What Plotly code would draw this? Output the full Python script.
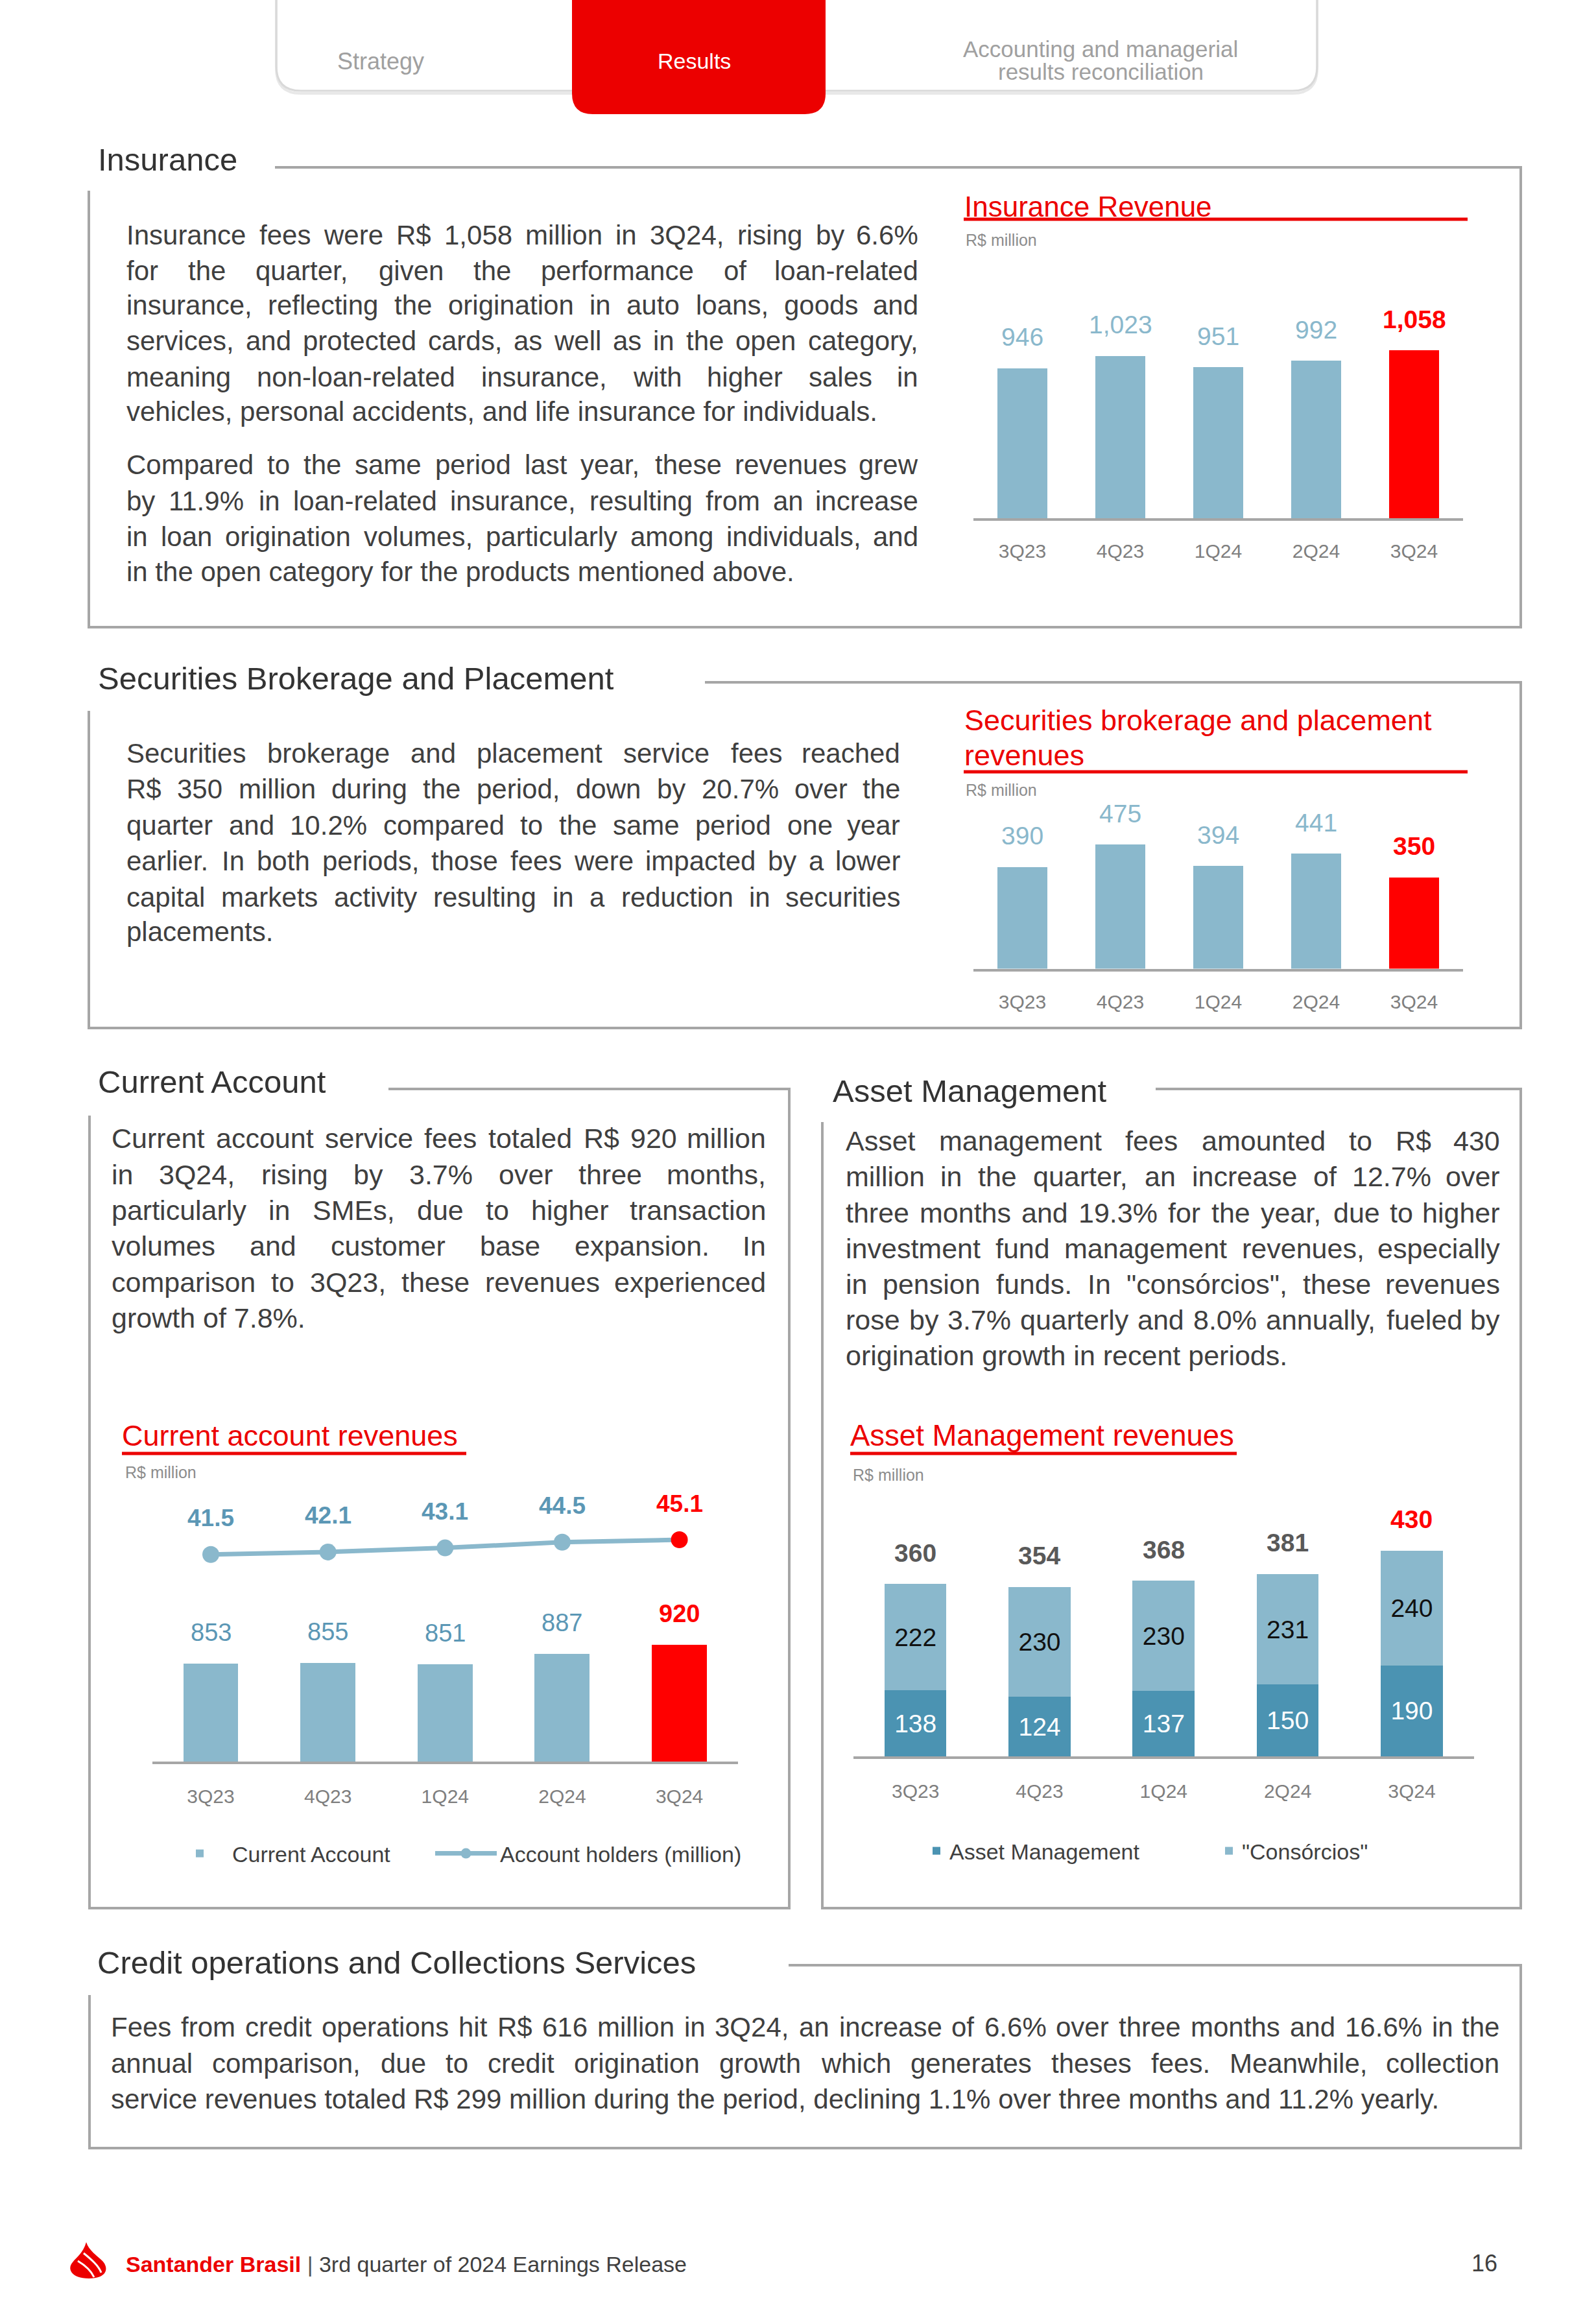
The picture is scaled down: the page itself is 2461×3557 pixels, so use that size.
import plotly.graph_objects as go

W, H = 2461, 3557

# ---------------- data ----------------
quarters = ["3Q23", "4Q23", "1Q24", "2Q24", "3Q24"]
insurance_revenue = [946, 1023, 951, 992, 1058]
securities_revenue = [390, 475, 394, 441, 350]
current_account_revenue = [853, 855, 851, 887, 920]
account_holders = [41.5, 42.1, 43.1, 44.5, 45.1]
asset_management = [138, 124, 137, 150, 190]
consorcios = [222, 230, 230, 231, 240]
asset_total = [360, 354, 368, 381, 430]

# ---------------- text ----------------
insurance_p1 = [
    "Insurance fees were R$ 1,058 million in 3Q24, rising by 6.6%",
    "for the quarter, given the performance of loan-related",
    "insurance, reflecting the origination in auto loans, goods and",
    "services, and protected cards, as well as in the open category,",
    "meaning non-loan-related insurance, with higher sales in",
    "vehicles, personal accidents, and life insurance for individuals.",
]
insurance_p2 = [
    "Compared to the same period last year, these revenues grew",
    "by 11.9% in loan-related insurance, resulting from an increase",
    "in loan origination volumes, particularly among individuals, and",
    "in the open category for the products mentioned above.",
]
securities_p = [
    "Securities brokerage and placement service fees reached",
    "R$ 350 million during the period, down by 20.7% over the",
    "quarter and 10.2% compared to the same period one year",
    "earlier. In both periods, those fees were impacted by a lower",
    "capital markets activity resulting in a reduction in securities",
    "placements.",
]
current_p = [
    "Current account service fees totaled R$ 920 million",
    "in 3Q24, rising by 3.7% over three months,",
    "particularly in SMEs, due to higher transaction",
    "volumes and customer base expansion. In",
    "comparison to 3Q23, these revenues experienced",
    "growth of 7.8%.",
]
asset_p = [
    "Asset management fees amounted to R$ 430",
    "million in the quarter, an increase of 12.7% over",
    "three months and 19.3% for the year, due to higher",
    "investment fund management revenues, especially",
    "in pension funds. In \"consórcios\", these revenues",
    "rose by 3.7% quarterly and 8.0% annually, fueled by",
    "origination growth in recent periods.",
]
credit_p = [
    "Fees from credit operations hit R$ 616 million in 3Q24, an increase of 6.6% over three months and 16.6% in the",
    "annual comparison, due to credit origination growth which generates theses fees. Meanwhile, collection",
    "service revenues totaled R$ 299 million during the period, declining 1.1% over three months and 11.2% yearly.",
]

# ---------------- style ----------------
FONT = "Liberation Sans"
RED_T = "#EC0000"
RED_B = "#FF0000"
LB = "#8AB8CC"
DB = "#4B93B2"
LBL_DARK = "#5B97B5"
AX = "#A6A6A6"
TXT = "#3F3F3F"
TICK = "#7F7F7F"


def px(x):
    return x / W


def py(y):
    return 1 - y / H


def path_px(s):
    out = []
    for tok in s.split():
        if "," in tok:
            a, b = tok.split(",")
            out.append(f"{px(float(a)):.6f},{py(float(b)):.6f}")
        else:
            out.append(tok)
    return " ".join(out)


HELV = {' ': 278, '!': 278, '"': 355, '#': 556, '$': 556, '%': 889, '&': 667, "'": 191,
        '(': 333, ')': 333, '*': 389, '+': 584, ',': 278, '-': 333, '.': 278, '/': 278,
        ':': 278, ';': 278, '?': 556, 'A': 667, 'B': 667, 'C': 722, 'D': 722, 'E': 667,
        'F': 611, 'G': 778, 'H': 722, 'I': 278, 'J': 500, 'K': 667, 'L': 556, 'M': 833,
        'N': 722, 'O': 778, 'P': 667, 'Q': 778, 'R': 722, 'S': 667, 'T': 611, 'U': 722,
        'V': 667, 'W': 944, 'X': 667, 'Y': 667, 'Z': 611, 'a': 556, 'b': 556, 'c': 500,
        'd': 556, 'e': 556, 'f': 278, 'g': 556, 'h': 556, 'i': 222, 'j': 222, 'k': 500,
        'l': 222, 'm': 833, 'n': 556, 'o': 556, 'p': 556, 'q': 556, 'r': 333, 's': 500,
        't': 278, 'u': 556, 'v': 500, 'w': 722, 'x': 500, 'y': 500, 'z': 500, 'ó': 556}
for d in "0123456789":
    HELV[d] = 556


def em_width(s):
    return sum(HELV.get(c, 556) for c in s) / 1000.0


fig = go.Figure()
annotations = []
shapes = []


def add_text(text, x, y, size, anchor="left", color=TXT, family=FONT, yanchor="middle"):
    annotations.append(dict(x=px(x), y=py(y), xref="paper", yref="paper", text=text,
                            showarrow=False, xanchor=anchor, yanchor=yanchor, borderpad=0,
                            font=dict(family=family, size=size, color=color)))


def add_paragraph(lines, x0, x1, ys, size):
    for line in lines[:-1]:
        words = line.split(" ")
        need = sum(em_width(w_) for w_ in words) + 0.2 * (len(words) - 1)
        size = min(size, (x1 - x0) / need)
    for k, (line, y) in enumerate(zip(lines, ys)):
        if k == len(lines) - 1:
            add_text(line, x0, y, size, "left")
            continue
        words = line.split(" ")
        widths = [em_width(w_) * size for w_ in words]
        gap = (x1 - x0 - sum(widths)) / (len(words) - 1)
        x = x0
        for j, (wd, ww) in enumerate(zip(words, widths)):
            if j == len(words) - 1:
                add_text(wd, x1, y, size, "right")
            else:
                add_text(wd, x, y, size, "left")
            x += ww + gap


def add_box(x_start, y_top, x_right, y_bot, x_left, y_left_start):
    shapes.append(dict(type="path", xref="paper", yref="paper",
                       path=path_px(f"M {x_start},{y_top} L {x_right},{y_top} L {x_right},{y_bot} "
                                    f"L {x_left},{y_bot} L {x_left},{y_left_start}"),
                       line=dict(color=AX, width=4)))


def hline(x0, x1, y, color, width):
    shapes.append(dict(type="line", xref="paper", yref="paper", x0=px(x0), x1=px(x1),
                       y0=py(y), y1=py(y), line=dict(color=color, width=width)))


# ---------------- top navigation tabs ----------------
L, R, B, T, r = 426, 2031, 140, -10, 38
shapes.append(dict(type="path", xref="paper", yref="paper",
                   path=path_px(f"M {L},{T} L {L},{B - r + 4} Q {L},{B + 4} {L + r},{B + 4} L {R - r},{B + 4} "
                                f"Q {R},{B + 4} {R},{B - r + 4} L {R},{T}"),
                   line=dict(color="#E8E8E8", width=4)))
shapes.append(dict(type="path", xref="paper", yref="paper",
                   path=path_px(f"M {L},{T} L {L},{B - r} Q {L},{B} {L + r},{B} L {R - r},{B} "
                                f"Q {R},{B} {R},{B - r} L {R},{T}"),
                   line=dict(color="#D9D9D9", width=3)))
L2, R2, B2, r2 = 882, 1273, 176, 32
shapes.append(dict(type="path", xref="paper", yref="paper",
                   path=path_px(f"M {L2},{T} L {L2},{B2 - r2} Q {L2},{B2} {L2 + r2},{B2} L {R2 - r2},{B2} "
                                f"Q {R2},{B2} {R2},{B2 - r2} L {R2},{T} Z"),
                   fillcolor=RED_T, line=dict(width=0)))
add_text("Strategy", 587, 95, 36, "center", color="#A0A0A0")
add_text("Results", 1070, 94, 34, "center", color="white")
add_text("Accounting and managerial", 1697, 76, 35, "center", color="#A0A0A0")
add_text("results reconciliation", 1697, 111, 35, "center", color="#A0A0A0")

# ---------------- section boxes & titles ----------------
add_text("Insurance", 150, 246, 49, "left", color="#333333")
add_box(424, 258, 2345, 967, 137, 294)
add_text("Securities Brokerage and Placement", 150, 1046, 49, "left", color="#333333")
add_box(1087, 1052, 2345, 1585, 137, 1096)
add_text("Current Account", 150, 1668, 49, "left", color="#333333")
add_box(599, 1679, 1217, 2942, 138, 1720)
add_text("Asset Management", 1283, 1682, 49, "left", color="#333333")
add_box(1782, 1679, 2345, 2942, 1268, 1730)
add_text("Credit operations and Collections Services", 149, 3026, 49, "left", color="#333333")
add_box(1216, 3030, 2345, 3312, 138, 3076)

# ---------------- paragraphs ----------------
add_paragraph(insurance_p1, 194, 1417, [362, 417, 471, 526, 581, 635], 42)
add_paragraph(insurance_p2, 194, 1417, [717, 772, 827, 882], 42)
add_paragraph(securities_p, 194, 1389, [1161, 1216, 1272, 1327, 1383, 1437], 42)
add_paragraph(current_p, 171, 1182, [1755, 1811, 1866, 1921, 1977, 2032], 43)
add_paragraph(asset_p, 1303, 2314, [1759, 1814, 1870, 1925, 1980, 2035, 2090], 43)
add_paragraph(credit_p, 170, 2313, [3125, 3181, 3236], 42)

# ---------------- chart titles ----------------
add_text("Insurance Revenue", 1486, 318, 44, "left", color=RED_T)
hline(1486, 2263, 338, RED_T, 5)
add_text("R$ million", 1488, 370, 25, "left", color="#8C8C8C")

add_text("Securities brokerage and placement", 1486, 1111, 45, "left", color=RED_T)
add_text("revenues", 1486, 1164, 45, "left", color=RED_T)
hline(1486, 2263, 1190, RED_T, 5)
add_text("R$ million", 1488, 1218, 25, "left", color="#8C8C8C")

add_text("Current account revenues", 187, 2213, 45, "left", color=RED_T)
hline(188, 719, 2241, RED_T, 5)
add_text("R$ million", 192, 2270, 25, "left", color="#8C8C8C")

add_text("Asset Management revenues", 1310, 2213, 45.5, "left", color=RED_T)
hline(1311, 1907, 2241, RED_T, 5)
add_text("R$ million", 1314, 2274, 25, "left", color="#8C8C8C")

# ---------------- footer ----------------
shapes.append(dict(type="path", xref="paper", yref="paper",
                   path=path_px("M 133,3457 C 137,3470 150,3478 158,3486 C 169,3498 164,3513 137,3513 "
                                "C 110,3513 103,3498 112,3488 C 118,3480 128,3474 133,3457 Z"),
                   fillcolor="#EC0000", line=dict(width=0)))
shapes.append(dict(type="path", xref="paper", yref="paper",
                   path=path_px("M 120,3486 C 130,3492 140,3500 145,3511"),
                   line=dict(color="white", width=3)))
shapes.append(dict(type="path", xref="paper", yref="paper",
                   path=path_px("M 129,3474 C 140,3483 152,3493 156,3504"),
                   line=dict(color="white", width=3)))
add_text("<b><span style='color:#EC0000'>Santander Brasil</span></b> "
         "<span style='color:#555555'>|</span> 3rd quarter of 2024 Earnings Release",
         193, 3491, 34, "left", color="#404040")
add_text("16", 2289, 3489, 36, "center", color="#404040")

# ---------------- charts ----------------
col5 = [LB] * 4 + [RED_B]

fig.add_trace(go.Bar(x=quarters, y=insurance_revenue, marker=dict(color=col5, line=dict(width=0)),
                     width=0.51, xaxis="x", yaxis="y", showlegend=False, hoverinfo="skip"))
fig.add_trace(go.Bar(x=quarters, y=securities_revenue, marker=dict(color=col5, line=dict(width=0)),
                     width=0.51, xaxis="x2", yaxis="y2", showlegend=False, hoverinfo="skip"))
fig.add_trace(go.Bar(x=quarters, y=current_account_revenue, marker=dict(color=col5, line=dict(width=0)),
                     width=0.47, xaxis="x3", yaxis="y3", name="Current Account", legend="legend",
                     hoverinfo="skip"))
fig.add_trace(go.Scatter(x=quarters, y=account_holders, mode="lines+markers", xaxis="x3", yaxis="y4",
                         line=dict(color=LB, width=7), marker=dict(size=26, color=col5),
                         name="Account holders (million)", legend="legend3", hoverinfo="skip"))
fig.add_trace(go.Bar(x=quarters, y=asset_management, marker=dict(color=DB, line=dict(width=0)),
                     width=0.5, xaxis="x5", yaxis="y5", name="Asset Management", legend="legend2",
                     text=[str(v) for v in asset_management], textposition="inside",
                     insidetextanchor="middle", textangle=0, constraintext="none",
                     textfont=dict(color="white", size=39, family=FONT), hoverinfo="skip"))
fig.add_trace(go.Bar(x=quarters, y=consorcios, marker=dict(color=LB, line=dict(width=0)),
                     width=0.5, xaxis="x5", yaxis="y5", name="\"Consórcios\"", legend="legend2",
                     text=[str(v) for v in consorcios], textposition="inside",
                     insidetextanchor="middle", textangle=0, constraintext="none",
                     textfont=dict(color="#111111", size=39, family=FONT), hoverinfo="skip"))


def value_labels(xref, yref, ys, texts, color, size, shift, bold_all=False, last_color=RED_B):
    for i, (q, yv, t) in enumerate(zip(quarters, ys, texts)):
        last = i == len(ys) - 1
        bold = bold_all or last
        annotations.append(dict(x=q, y=yv, xref=xref, yref=yref, showarrow=False,
                                text=f"<b>{t}</b>" if bold else t, yanchor="middle", yshift=shift,
                                font=dict(family=FONT, size=size, color=last_color if last else color)))


value_labels("x", "y", insurance_revenue, [f"{v:,}" for v in insurance_revenue], LB, 39, 48)
value_labels("x2", "y2", securities_revenue, [f"{v:,}" for v in securities_revenue], LB, 39, 48)
value_labels("x3", "y3", current_account_revenue, [f"{v:,}" for v in current_account_revenue],
             LBL_DARK, 38, 48)
value_labels("x3", "y4", account_holders, [f"{v:.1f}" for v in account_holders], LBL_DARK, 37, 56,
             bold_all=True)
value_labels("x5", "y5", [a + c for a, c in zip(asset_management, consorcios)],
             [str(v) for v in asset_total], "#595959", 39, 48, bold_all=True)


def xax(d0, d1, anchor, standoff):
    return dict(domain=[px(d0), px(d1)], anchor=anchor, type="category", range=[-0.5, 4.5],
                showline=True, linecolor=AX, linewidth=4, showgrid=False, zeroline=False,
                ticks="", ticklabelstandoff=standoff, fixedrange=True,
                tickfont=dict(family=FONT, size=30, color=TICK))


def yax(bottom, top, rng, anchor):
    return dict(domain=[py(bottom), py(top)], range=rng, anchor=anchor, visible=False,
                showgrid=False, zeroline=False, fixedrange=True)


# px-per-unit scales
ins_scale, sec_scale, ca_scale, hold_scale, am_scale = 0.245, 0.4025, 0.433, 6.3, 0.738
ca_min = 504
hold_min = account_holders[0] - 319.3 / hold_scale

leg_font = dict(family=FONT, size=34, color=TXT)
fig.update_layout(
    width=W, height=H, autosize=False,
    margin=dict(l=0, r=0, t=0, b=0),
    paper_bgcolor="white", plot_bgcolor="rgba(0,0,0,0)",
    barmode="stack", hovermode=False,
    font=dict(family=FONT, color=TXT),
    xaxis=xax(1501, 2256, "y", 21),
    yaxis=yax(799.4, 500, [0, 299.4 / ins_scale], "x"),
    xaxis2=xax(1501, 2256, "y2", 21),
    yaxis2=yax(1493.6, 1230, [0, 263.6 / sec_scale], "x2"),
    xaxis3=xax(234.7, 1137.9, "y3", 24),
    yaxis3=yax(2716, 2300, [ca_min, ca_min + 416 / ca_scale], "x3"),
    yaxis4=dict(overlaying="y3", range=[hold_min, hold_min + 416 / hold_scale], visible=False,
                anchor="x3", fixedrange=True),
    xaxis5=xax(1316, 2272.6, "y5", 24),
    yaxis5=yax(2708, 2330, [0, 378 / am_scale], "x5"),
    legend=dict(orientation="h", x=px(258), y=py(2858), xanchor="left", yanchor="middle",
                font=leg_font, itemwidth=90, bgcolor="rgba(0,0,0,0)"),
    legend3=dict(orientation="h", x=px(666), y=py(2858), xanchor="left", yanchor="middle",
                 font=leg_font, itemwidth=95, bgcolor="rgba(0,0,0,0)"),
    legend2=dict(orientation="h", x=px(1424), y=py(2854), xanchor="left", yanchor="middle",
                 font=leg_font, traceorder="normal",
                 entrywidth=406, entrywidthmode="pixels", bgcolor="rgba(0,0,0,0)"),
    annotations=annotations,
    shapes=shapes,
)

fig.write_html("out.html", config={"displayModeBar": False},
               post_script="document.body.style.margin='0';document.body.style.overflow='hidden';")
